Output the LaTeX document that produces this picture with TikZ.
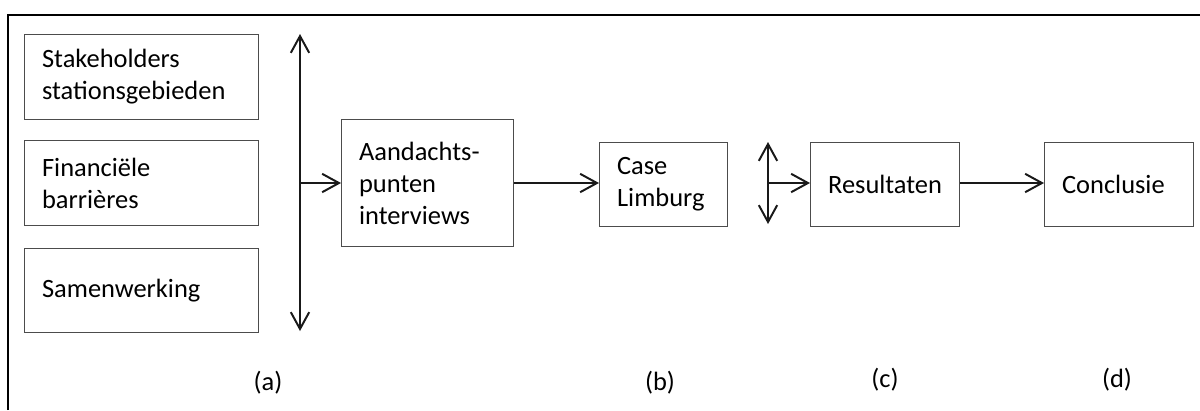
\documentclass[tikz,border=0pt]{standalone}
\usepackage{fontspec}
\setmainfont{Carlito}
\usetikzlibrary{arrows.meta}
\colorlet{boxlinec}{black!70}
\colorlet{arrowc}{black!90}
\tikzset{
  stepbox/.style={anchor=north west,draw=boxlinec,line width=0.7pt,shape=rectangle,
    inner xsep=0.44cm,align=left,font=\fontsize{18.8}{22.8}\selectfont},
  flowarrow/.style={draw=arrowc,line width=1.4pt,-{Straight Barb[length=0.42cm,width=0.46cm,line width=1.4pt]}},
  botharrow/.style={draw=arrowc,line width=1.4pt,{Straight Barb[length=0.42cm,width=0.46cm,line width=1.4pt]}-{Straight Barb[length=0.42cm,width=0.46cm,line width=1.4pt]}},
  steplabel/.style={font=\fontsize{18.8}{22.8}\selectfont}
}

\begin{document}
\begin{tikzpicture}[x=0.025cm,y=-0.025cm]
\useasboundingbox (0,0) rectangle (1200,410);
\draw[line width=2pt] (8,410) -- (8,15) -- (1200,15);

\node[stepbox,minimum width=5.85cm,minimum height=2.125cm,text width=4.97cm]
(stake) at (24,34) {Stakeholders\\stationsgebieden};
\node[stepbox,minimum width=5.85cm,minimum height=2.125cm,text width=4.97cm]
(finance) at (24,140) {Financiële\\barrières};
\node[stepbox,minimum width=5.85cm,minimum height=2.1cm,text width=4.97cm]
(samen) at (24,248) {Samenwerking};

\node[stepbox,minimum width=4.3cm,minimum height=3.175cm,text width=3.42cm]
(aandacht) at (341,119) {Aandachts-\\punten\\interviews};
\node[stepbox,minimum width=3.2cm,minimum height=2.1cm,text width=2.32cm]
(limburg) at (599,142) {Case\\Limburg};
\node[stepbox,minimum width=3.725cm,minimum height=2.1cm,text width=2.85cm]
(result) at (810,142) {Resultaten};
\node[stepbox,minimum width=3.725cm,minimum height=2.1cm,text width=2.85cm]
(conclusie) at (1044,142) {Conclusie};

% verdeel-lijnen
\coordinate (bustop) at (300,34);
\coordinate (busbottom) at (300,331);
\coordinate (bus) at (300,183);
\draw[botharrow] (busbottom) -- (bustop);
\draw[flowarrow] (bus) -- (aandacht.west |- bus);
\draw[flowarrow] (aandacht.east |- bus) -- (limburg.west |- bus);

\coordinate (smalltop) at (768,142);
\coordinate (smallbottom) at (768,224);
\coordinate (smallbus) at (768,183);
\draw[botharrow] (smallbottom) -- (smalltop);
\draw[flowarrow] (smallbus) -- (result.west |- smallbus);
\draw[flowarrow] (result.east |- smallbus) -- (conclusie.west |- smallbus);

\node[steplabel] (labela) at (268,383) {(a)};
\node[steplabel] (labelb) at (660,383) {(b)};
\node[steplabel] (labelc) at (885,380) {(c)};
\node[steplabel] (labeld) at (1117,380) {(d)};

\end{tikzpicture}
\end{document}
